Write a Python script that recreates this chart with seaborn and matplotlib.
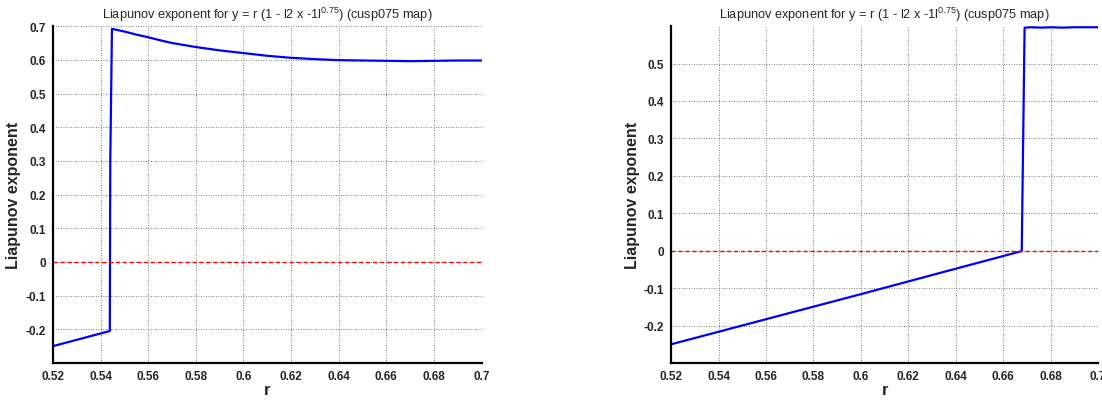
import numpy as np
import pandas as pd
import seaborn as sns
import matplotlib.pyplot as plt

# Valores (r, exponente de Liapunov)
r_izq = [0.52, 0.5439, 0.5441, 0.5448, 0.55, 0.555, 0.56, 0.565, 0.57, 0.575, 0.58,
         0.59, 0.60, 0.61, 0.62, 0.63, 0.64, 0.65, 0.66, 0.67, 0.68, 0.69, 0.70]
lyap_izq = [-0.25, -0.205, 0.30, 0.692, 0.684, 0.675, 0.667, 0.658, 0.650, 0.644, 0.638,
            0.628, 0.620, 0.612, 0.606, 0.602, 0.599, 0.598, 0.597, 0.596, 0.597, 0.598, 0.598]

r_der = [0.52, 0.56, 0.60, 0.64, 0.6678, 0.6684, 0.669, 0.672, 0.676, 0.68, 0.685, 0.69, 0.695, 0.70]
lyap_der = [-0.25, -0.183, -0.116, -0.048, -0.001, 0.30, 0.596, 0.597, 0.596, 0.597, 0.596, 0.597, 0.597, 0.597]

titulo = r'Liapunov exponent for y = r (1 - l2 x -1l$^{0.75}$) (cusp075 map)'
xticks = [0.52, 0.54, 0.56, 0.58, 0.60, 0.62, 0.64, 0.66, 0.68, 0.70]
xticklabels = ['0.52', '0.54', '0.56', '0.58', '0.6', '0.62', '0.64', '0.66', '0.68', '0.7']


def dibujar(ax, r, lyap, ymax, yticks):
    df = pd.DataFrame({'r': r, 'lyap': lyap})
    sns.lineplot(data=df, x='r', y='lyap', ax=ax, sort=False, estimator=None,
                 color='#0000ff', linewidth=1.6)
    ax.axhline(0, color='#ff0000', linestyle='--', linewidth=1.0, dashes=(3, 2))
    ax.set_xlim(0.52, 0.70)
    ax.set_ylim(-0.3, ymax)
    ax.set_xticks(xticks)
    ax.set_xticklabels(xticklabels)
    ax.set_yticks(yticks)
    ax.set_yticklabels([('%g' % v) for v in yticks])
    ax.grid(True, color='#555555', linestyle=(0, (1, 2)), linewidth=0.6)
    ax.tick_params(direction='in', length=4, width=1.2, labelsize=8.5, pad=5)
    for lab in ax.get_xticklabels() + ax.get_yticklabels():
        lab.set_fontweight('bold')
    for s in ['top', 'right']:
        ax.spines[s].set_visible(False)
    for s in ['left', 'bottom']:
        ax.spines[s].set_linewidth(1.6)
        ax.spines[s].set_color('black')
    ax.set_title(titulo, fontsize=9.2, pad=6)
    ax.set_xlabel('r', fontsize=12, fontweight='bold', labelpad=0)
    ax.set_ylabel('Liapunov exponent', fontsize=11.5, fontweight='bold', labelpad=3)


def main():
    sns.set_style('white')
    plt.rcParams['font.family'] = ['Liberation Sans', 'DejaVu Sans']
    plt.rcParams['mathtext.fontset'] = 'custom'
    plt.rcParams['mathtext.rm'] = 'Liberation Sans'

    fig = plt.figure(figsize=(11.02, 4.02), dpi=100)
    ax1 = fig.add_axes([0.048, 0.0945, 0.389, 0.838])
    ax2 = fig.add_axes([0.609, 0.0945, 0.3875, 0.838])

    dibujar(ax1, r_izq, lyap_izq, 0.70, [-0.2, -0.1, 0, 0.1, 0.2, 0.3, 0.4, 0.5, 0.6, 0.7])
    dibujar(ax2, r_der, lyap_der, 0.60, [-0.2, -0.1, 0, 0.1, 0.2, 0.3, 0.4, 0.5])

    fig.savefig('out.png', dpi=100)


if __name__ == "__main__":
    main()
